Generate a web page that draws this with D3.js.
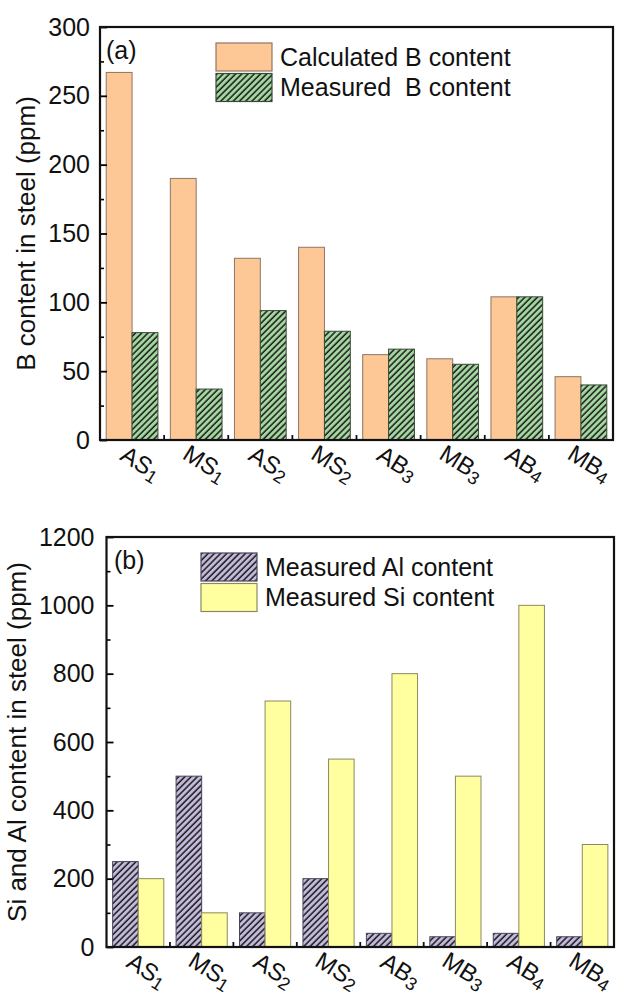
<!DOCTYPE html>
<html>
<head>
<meta charset="utf-8">
<script src="https://cdn.jsdelivr.net/npm/d3@7"></script>
<style>
  html, body { margin: 0; padding: 0; background: #fff; }
  svg text { font-family: "Liberation Sans", Arial, sans-serif; fill: #111; }
</style>
</head>
<body>
<div id="chart"></div>
<script>
// Sample names shared by both panels (main text + subscript)
var sampleNames = ["AS", "MS", "AS", "MS", "AB", "MB", "AB", "MB"];
var sampleSubs = ["1", "1", "2", "2", "3", "3", "4", "4"];

// Panel (a): B content (ppm)
var calculatedB = [267, 190, 132, 140, 62, 59, 104, 46];
var measuredB = [78, 37, 94, 79, 66, 55, 104, 40];
var ticksA = [0, 50, 100, 150, 200, 250, 300];
var minorTicksA = [25, 75, 125, 175, 225, 275];

// Panel (b): Al and Si content (ppm)
var measuredAl = [250, 500, 100, 200, 40, 30, 40, 30];
var measuredSi = [200, 100, 720, 550, 800, 500, 1000, 300];
var ticksB = [0, 200, 400, 600, 800, 1000, 1200];
var minorTicksB = [100, 300, 500, 700, 900, 1100];

var svg = d3.select("#chart")
    .append("svg")
    .attr("width", 624)
    .attr("height", 998);

// Hatch patterns for the measured series
var defs = svg.append("defs");
function addHatch(id, bg) {
    var size = 4.4;
    var p = defs.append("pattern")
        .attr("id", id)
        .attr("patternUnits", "userSpaceOnUse")
        .attr("width", size)
        .attr("height", size)
        .attr("patternTransform", "rotate(45)");
    p.append("rect").attr("width", size).attr("height", size).attr("fill", bg);
    p.append("line")
        .attr("x1", 1).attr("y1", 0).attr("x2", 1).attr("y2", size)
        .attr("stroke", "#1a1a1a").attr("stroke-width", 1.5);
}
addHatch("hatchGreen", "#a4d6a0");
addHatch("hatchPurple", "#c3badb");

// Draws one bar panel from its config
function drawPanel(cfg) {
    var keys = ["s0", "s1"];
    var rows = sampleNames.map(function (d, i) {
        return { id: i, s0: cfg.series[0][i], s1: cfg.series[1][i] };
    });

    var xScale0 = d3.scaleBand()
        .range([cfg.left, cfg.right])
        .padding(0)
        .domain(rows.map(function (d) { return d.id; }));

    var xScale1 = d3.scaleBand()
        .paddingInner(0)
        .paddingOuter(0.24)
        .domain(keys)
        .range([0, xScale0.bandwidth()]);

    var yScale = d3.scaleLinear()
        .domain(cfg.domain)
        .range([cfg.bottom, cfg.top]);

    var g = svg.append("g");

    // Bars
    g.selectAll(".grp")
        .data(rows)
        .enter()
        .append("g")
        .attr("transform", function (d) { return "translate(" + xScale0(d.id) + ",0)"; })
        .selectAll("rect")
        .data(function (d) { return keys.map(function (k, j) { return { j: j, value: d[k] }; }); })
        .enter()
        .append("rect")
        .attr("x", function (d) { return xScale1(keys[d.j]); })
        .attr("width", xScale1.bandwidth())
        .attr("y", function (d) { return yScale(d.value); })
        .attr("height", function (d) { return cfg.bottom - yScale(d.value); })
        .attr("fill", function (d) { return cfg.fills[d.j]; })
        .attr("stroke", function (d) { return cfg.strokes[d.j]; })
        .attr("stroke-width", 1);

    // Minor y ticks (inward)
    g.append("g")
        .attr("transform", "translate(" + cfg.left + ",0)")
        .call(d3.axisLeft(yScale).tickValues(cfg.minor).tickSize(-4).tickSizeOuter(0).tickFormat(""))
        .call(function (a) { a.select(".domain").remove(); })
        .selectAll("line").attr("stroke-width", 1.6);

    // Major y ticks and labels
    var yAxis = g.append("g")
        .attr("transform", "translate(" + cfg.left + ",0)")
        .call(d3.axisLeft(yScale).tickValues(cfg.ticks).tickSize(-7).tickSizeOuter(0)
            .tickPadding(cfg.tickPad).tickFormat(d3.format("d")));
    yAxis.select(".domain").remove();
    yAxis.selectAll("line").attr("stroke-width", 1.8);
    yAxis.selectAll("text")
        .style("font-size", "25px")
        .style("font-family", "'Liberation Sans', Arial, sans-serif")
        .attr("fill", "#111");

    // X ticks at group boundaries (inward)
    g.selectAll(".xtick")
        .data(rows.slice(1))
        .enter()
        .append("line")
        .attr("x1", function (d) { return xScale0(d.id); })
        .attr("x2", function (d) { return xScale0(d.id); })
        .attr("y1", cfg.bottom)
        .attr("y2", cfg.bottom - 5)
        .attr("stroke", "#111")
        .attr("stroke-width", 1.8);

    // Frame
    g.append("rect")
        .attr("x", cfg.left)
        .attr("y", cfg.top)
        .attr("width", cfg.right - cfg.left)
        .attr("height", cfg.bottom - cfg.top)
        .attr("fill", "none")
        .attr("stroke", "#111")
        .attr("stroke-width", 2.2);

    // Rotated category labels with subscripts
    var lab = g.selectAll(".xlab")
        .data(rows)
        .enter()
        .append("text")
        .attr("text-anchor", "middle")
        .attr("dy", "0.35em")
        .style("font-size", "24px")
        .attr("transform", function (d) {
            return "translate(" + (xScale0(d.id) + xScale0.bandwidth() / 2 + 9) + "," + (cfg.bottom + 23) + ") rotate(32)";
        });
    lab.append("tspan").text(function (d) { return sampleNames[d.id]; });
    lab.append("tspan")
        .attr("dy", 4)
        .style("font-size", "18px")
        .text(function (d) { return sampleSubs[d.id]; });

    // Y axis title
    g.append("text")
        .attr("transform", "translate(" + cfg.titleX + "," + ((cfg.top + cfg.bottom) / 2) + ") rotate(-90)")
        .attr("text-anchor", "middle")
        .style("font-size", "26px")
        .text(cfg.title);

    // Panel letter
    g.append("text")
        .attr("x", cfg.letterX)
        .attr("y", cfg.letterY)
        .style("font-size", "25px")
        .text(cfg.letter);

    // Legend
    var legend = g.selectAll(".legend-item")
        .data(cfg.legend)
        .enter()
        .append("g")
        .attr("transform", function (d, i) { return "translate(" + cfg.legendX + "," + (cfg.legendY + i * 30.5) + ")"; });

    legend.append("rect")
        .attr("width", 56)
        .attr("height", 28)
        .attr("fill", function (d, i) { return cfg.fills[i]; })
        .attr("stroke", function (d, i) { return cfg.strokes[i]; })
        .attr("stroke-width", 1.2);

    legend.append("text")
        .attr("x", 64)
        .attr("y", 14)
        .attr("dy", "0.35em")
        .style("font-size", "25px")
        .style("white-space", "pre")
        .text(function (d) { return d; });
}

drawPanel({
    left: 100, right: 613, top: 27, bottom: 440,
    domain: [0, 300], ticks: ticksA, minor: minorTicksA, tickPad: 10,
    series: [calculatedB, measuredB],
    fills: ["#fdc796", "url(#hatchGreen)"],
    strokes: ["#8f7565", "#3a4a38"],
    title: "B content in steel (ppm)", titleX: 35,
    letter: "(a)", letterX: 106, letterY: 59,
    legend: ["Calculated B content", "Measured  B content"],
    legendX: 216, legendY: 43
});

drawPanel({
    left: 106.5, right: 614, top: 537, bottom: 947,
    domain: [0, 1200], ticks: ticksB, minor: minorTicksB, tickPad: 12,
    series: [measuredAl, measuredSi],
    fills: ["url(#hatchPurple)", "#ffffa0"],
    strokes: ["#4a4458", "#8a8a60"],
    title: "Si and Al content in steel (ppm)", titleX: 26,
    letter: "(b)", letterX: 114, letterY: 569,
    legend: ["Measured Al content", "Measured Si content"],
    legendX: 201, legendY: 553
});
</script>
</body>
</html>
